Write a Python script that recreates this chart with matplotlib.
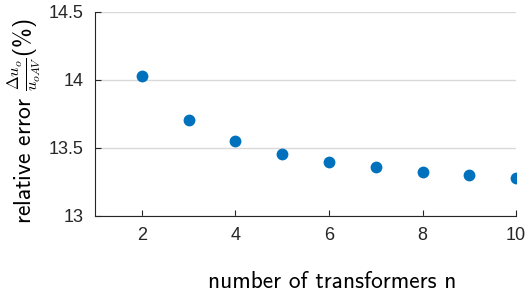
import matplotlib
matplotlib.use("Agg")
import matplotlib.pyplot as plt

plt.rcParams['mathtext.fontset'] = 'cm'
plt.rcParams['font.family'] = ['Liberation Sans', 'DejaVu Sans']

# data
n_transformers = [2, 3, 4, 5, 6, 7, 8, 9, 10]
rel_error = [14.027, 13.706, 13.551, 13.458, 13.397, 13.356, 13.324, 13.299, 13.279]

yticks = [13, 13.5, 14, 14.5]
ytick_labels = ['13', '13.5', '14', '14.5']
xticks = [2, 4, 6, 8, 10]

fig = plt.figure(figsize=(5.31, 2.99), dpi=100)
ax = fig.add_axes([0.179, 0.278, 0.793, 0.682])

ax.plot(n_transformers, rel_error, 'o', color='#0072BD', markersize=8.5,
        markeredgewidth=0, zorder=3)

ax.set_xlim(1, 10)
ax.set_ylim(13, 14.5)
ax.set_xticks(xticks)
ax.set_yticks(yticks)
ax.set_yticklabels(ytick_labels)
ax.grid(True, axis='y', color='#d9d9d9', linewidth=1.0)
ax.set_axisbelow(True)

for side in ['top', 'right']:
    ax.spines[side].set_visible(False)
for side in ['left', 'bottom']:
    ax.spines[side].set_color('#262626')
    ax.spines[side].set_linewidth(0.8)

ax.tick_params(direction='in', length=4, width=0.8, color='#262626',
               labelsize=13, labelcolor='#262626', pad=8)

ax.set_xlabel('number of transformers n', family='cmss10', fontsize=16.8,
              color='black')
ax.set_ylabel(r'relative error $\frac{\Delta u_o}{u_{oAV}}$(%)', family='cmss10',
              fontsize=17, color='black')
ax.xaxis.set_label_coords(0.563, -0.27)
ax.yaxis.set_label_coords(-0.125, 0.466)

fig.savefig('out.png', dpi=100)
